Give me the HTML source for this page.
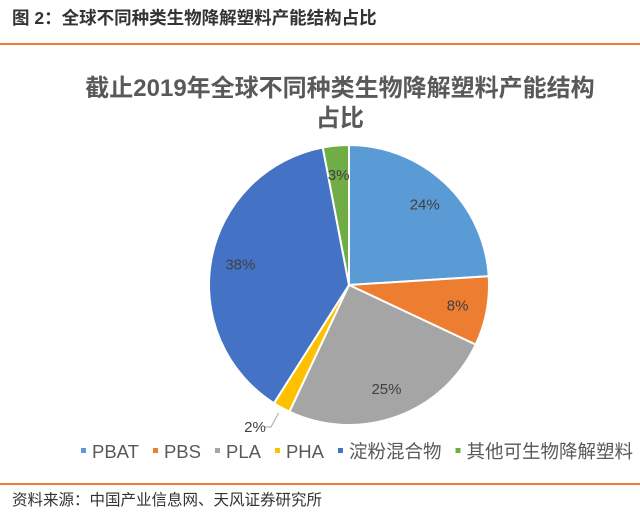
<!DOCTYPE html>
<html><head><meta charset="utf-8"><style>
body{margin:0;width:640px;height:513px;background:#fff;font-family:"Liberation Sans","Noto Sans CJK SC",sans-serif;position:relative;overflow:hidden}
.hdr{position:absolute;left:12px;top:5px;font-size:17.5px;font-weight:bold;color:#333}
.line{position:absolute;left:0;width:640px;height:2px;background:#ED7D31}
.src{position:absolute;left:12px;top:488px;font-size:15.5px;color:#333}
</style></head><body>
<div class="hdr">图 2：全球不同种类生物降解塑料产能结构占比</div>
<div class="line" style="top:43px"></div>
<svg id="chart" width="640" height="513" style="position:absolute;left:0;top:0">
<text x="340" y="96" text-anchor="middle" font-size="24" font-weight="bold" fill="#595959">截止2019年全球不同种类生物降解塑料产能结构</text>
<text x="340" y="126" text-anchor="middle" font-size="24" font-weight="bold" fill="#595959">占比</text>
<g id="slices"></g><g id="labels"></g><g id="legend"></g>
</svg>
<div class="line" style="top:483px"></div>
<div class="src">资料来源：中国产业信息网、天风证券研究所</div>
<script>
const categories=["PBAT","PBS","PLA","PHA","淀粉混合物","其他可生物降解塑料"];
const values=[24,8,25,2,38,3];
const colors=["#5B9BD5","#ED7D31","#A5A5A5","#FFC000","#4472C4","#70AD47"];
const NS="http://www.w3.org/2000/svg";
const cx=349,cy=285,r=140;
const total=values.reduce((a,b)=>a+b,0);
const sl=document.getElementById('slices'),lb=document.getElementById('labels'),lg=document.getElementById('legend');
function pt(a,rr){return [cx+Math.sin(a)*rr,cy-Math.cos(a)*rr];}
let acc=0;
values.forEach((v,i)=>{
 const a0=acc/total*2*Math.PI;acc+=v;const a1=acc/total*2*Math.PI;
 const p0=pt(a0,r),p1=pt(a1,r);
 const p=document.createElementNS(NS,'path');
 p.setAttribute('d',`M${cx},${cy}L${p0[0]},${p0[1]}A${r},${r} 0 ${a1-a0>Math.PI?1:0} 1 ${p1[0]},${p1[1]}Z`);
 p.setAttribute('fill',colors[i]);p.setAttribute('stroke','#fff');p.setAttribute('stroke-width','2');
 
 
 sl.appendChild(p);
 const am=(a0+a1)/2;
 let lp=pt(am,r*0.79);
 const t=document.createElementNS(NS,'text');
 if(v/total<0.025){
  const e=pt(am,r+6),q=pt(am,r+22);
  const ln=document.createElementNS(NS,'path');
  ln.setAttribute('d',`M${e[0]},${e[1]}L${q[0]},${q[1]}L${q[0]-6},${q[1]}`);
  ln.setAttribute('stroke','#a6a6a6');ln.setAttribute('fill','none');
  
  
  lb.appendChild(ln);
  lp=[q[0]-16,q[1]+5];
 } else lp=[lp[0],lp[1]+5];
 t.setAttribute('x',lp[0]);t.setAttribute('y',lp[1]);t.setAttribute('text-anchor','middle');
 t.setAttribute('font-size','15');t.setAttribute('fill','#404040');
 t.textContent=v+'%';
 
 
 lb.appendChild(t);
});
let lx=81;
categories.forEach((c,i)=>{
 const g=document.createElementNS(NS,'g');
 
 
 const s=document.createElementNS(NS,'rect');
 s.setAttribute('x',lx);s.setAttribute('y',448);s.setAttribute('width',5);s.setAttribute('height',5);s.setAttribute('fill',colors[i]);
 g.appendChild(s);
 const t=document.createElementNS(NS,'text');
 t.setAttribute('x',lx+11);t.setAttribute('y',458);t.setAttribute('font-size','18.5');t.setAttribute('fill','#595959');
 t.textContent=c;g.appendChild(t);lg.appendChild(g);
 lx+=11+t.getComputedTextLength()+14;
});
</script>
</body></html>
